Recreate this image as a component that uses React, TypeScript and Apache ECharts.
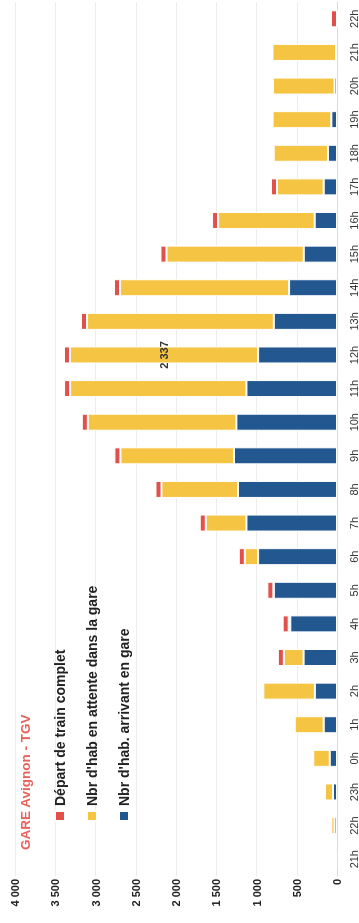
import React, { useEffect, useRef } from "react";
import * as echarts from "echarts";

const categories = ["21h", "22h", "23h", "0h", "1h", "2h", "3h", "4h", "5h", "6h", "7h", "8h", "9h", "10h", "11h", "12h", "13h", "14h", "15h", "16h", "17h", "18h", "19h", "20h", "21h", "22h"];

const arriving = [10, 30, 50, 90, 165, 275, 415, 580, 785, 980, 1125, 1230, 1280, 1250, 1125, 980, 785, 595, 413, 277, 165, 112, 70, 30, 12, 0];

const waiting = [5, 40, 100, 205, 360, 640, 245, 20, 5, 165, 505, 950, 1410, 1845, 2190, 2337, 2320, 2100, 1705, 1200, 580, 675, 730, 765, 790, 0];

const departures = [null, null, null, null, null, null, 75, 75, 75, 75, 75, 75, 75, 75, 75, 75, 75, 75, 75, 75, 75, null, null, null, null, 75];

const labelledIndex = 15;

const valueTicks = { min: 0, max: 4000, interval: 500 };

const fmt = (v: number) => String(Math.round(v)).replace(/\B(?=(\d{3})+(?!\d))/g, " ");

const W = 923;
const H = 359;
const FONT = "Liberation Sans, Arial, sans-serif";

export default function App() {
  const ref = useRef<HTMLDivElement>(null);

  useEffect(() => {
    if (!ref.current) return;
    const chart = echarts.init(ref.current, null, { renderer: "svg" });
    const border = { borderColor: "#ffffff", borderWidth: 1 };
    chart.setOption({
      animation: false,
      backgroundColor: "#ffffff",
      title: {
        text: "GARE Avignon - TGV",
        left: 68,
        top: 13,
        textStyle: { color: "#e8615b", fontSize: 13.5, fontWeight: "bold", fontFamily: FONT },
      },
      legend: {
        orient: "vertical",
        left: 96,
        top: 48,
        itemWidth: 10,
        itemHeight: 10,
        itemGap: 18,
        icon: "rect",
        textStyle: { color: "#222", fontSize: 14, fontWeight: "bold", fontFamily: FONT },
        data: ["Départ de train complet", "Nbr d'hab en attente dans la gare", "Nbr d'hab. arrivant en gare"],
      },
      grid: { left: 47, right: 2, top: 15, bottom: 21.7 },
      xAxis: {
        type: "category",
        data: categories,
        axisLine: { show: true, lineStyle: { color: "#d5d9e0" } },
        axisTick: { show: false },
        axisLabel: { color: "#333", fontSize: 11, margin: 11, interval: 0, fontFamily: FONT },
      },
      yAxis: {
        type: "value",
        min: valueTicks.min,
        max: valueTicks.max,
        interval: valueTicks.interval,
        axisLine: { show: false },
        axisTick: { show: false },
        splitLine: { lineStyle: { color: "#ececec" } },
        axisLabel: { color: "#222", fontSize: 11, fontWeight: "bold", margin: 3, formatter: (v: number) => fmt(v), fontFamily: FONT },
      },
      series: [
        {
          name: "Nbr d'hab. arrivant en gare",
          type: "bar",
          stack: "total",
          barWidth: 17,
          itemStyle: { color: "#22578f", ...border },
          data: arriving,
        },
        {
          name: "Nbr d'hab en attente dans la gare",
          type: "bar",
          stack: "total",
          barWidth: 17,
          itemStyle: { color: "#f6c443", ...border },
          data: waiting.map((v, i) =>
            i === labelledIndex
              ? {
                  value: v,
                  label: {
                    show: true,
                    position: "inside",
                    formatter: (p: any) => fmt(p.value),
                    color: "#333",
                    fontSize: 11,
                    fontWeight: "bold",
                    fontFamily: FONT,
                  },
                }
              : v
          ),
        },
        {
          name: "Départ de train complet",
          type: "bar",
          stack: "total",
          barWidth: 17,
          itemStyle: { color: "#e2504c", ...border },
          data: departures,
        },
      ],
    });
    return () => chart.dispose();
  }, []);

  return (
    <div
      style={{
        position: "fixed",
        left: 0,
        top: 0,
        width: W,
        height: H,
        transformOrigin: "0 0",
        transform: `rotate(-90deg) translateX(-${W}px)`,
        background: "#fff",
      }}
    >
      <div ref={ref} style={{ width: W, height: H }} />
    </div>
  );
}
